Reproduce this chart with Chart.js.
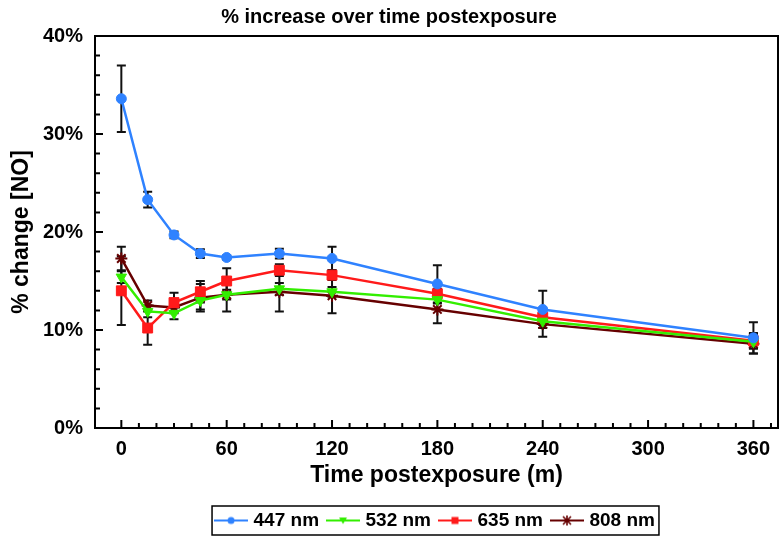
<!DOCTYPE html>
<html><head><meta charset="utf-8">
<script src="https://cdn.jsdelivr.net/npm/chart.js@4/dist/chart.umd.min.js"></script>
<style>html,body{margin:0;padding:0;background:#fff;}</style>
</head><body>
<canvas id="c" width="780" height="540"></canvas>
<script>
// ---- data ----
const times = [0, 15, 30, 45, 60, 90, 120, 180, 240, 360];
const seriesNames = ['447 nm', '532 nm', '635 nm', '808 nm'];
const nm447 = [33.6, 23.3, 19.7, 17.8, 17.4, 17.8, 17.3, 14.7, 12.1, 9.2];
const err447 = [3.4, 0.8, 0.35, 0.45, 0.2, 0.5, 1.2, 1.9, 1.9, 1.6];
const nm532 = [15.4, 11.9, 11.7, 13.0, 13.6, 14.2, 13.9, 13.1, 10.9, 8.8];
const err532 = [0.6, 0.6, 0.6, 0.9, 0.5, 0.6, 0.5, 0.4, 0.4, 0.7];
const nm635 = [14.0, 10.2, 12.8, 13.9, 15.0, 16.1, 15.6, 13.7, 11.3, 8.9];
const err635 = [3.5, 1.7, 1.0, 1.1, 1.3, 0.6, 0.5, 0.5, 0.4, 0.8];
const nm808 = [17.3, 12.5, 12.3, 13.3, 13.6, 13.9, 13.5, 12.1, 10.6, 8.6];
const err808 = [1.2, 0.5, 0.6, 1.4, 1.7, 2.0, 1.8, 1.4, 1.3, 1.0];
const xMajorTicks = [0, 60, 120, 180, 240, 300, 360];
const xMinorStep = 10;
const yMajorTicks = [0, 10, 20, 30, 40];
const yMinorStep = 2;

const FONT = "'Liberation Sans', Arial, Helvetica, sans-serif";
const colors = ['#2f82ff', '#33ee00', '#ff1a1a', '#660000'];
const styles = ['circle', 'triangle', 'rect', 'star'];
const radii = [5, 6, 7, 6];
const rotations = [0, 180, 0, 0];
const values = [nm447, nm532, nm635, nm808];
const errors = [err447, err532, err635, err808];

function legendIcon(i) {
  const cv = document.createElement('canvas');
  cv.width = 34; cv.height = 14;
  const g = cv.getContext('2d');
  g.strokeStyle = colors[i]; g.fillStyle = colors[i]; g.lineWidth = 2;
  g.beginPath(); g.moveTo(0, 7); g.lineTo(34, 7); g.stroke();
  const cx = 17, cy = 7;
  g.beginPath();
  if (styles[i] === 'circle') { g.arc(cx, cy, 3.5, 0, Math.PI * 2); g.fill(); }
  else if (styles[i] === 'triangle') { g.moveTo(cx - 4, cy - 3); g.lineTo(cx + 4, cy - 3); g.lineTo(cx, cy + 3.5); g.closePath(); g.fill(); }
  else if (styles[i] === 'rect') { g.rect(cx - 3.5, cy - 3.5, 7, 7); g.fill(); }
  else { g.lineWidth = 1.6; g.moveTo(cx - 4, cy - 4); g.lineTo(cx + 4, cy + 4); g.moveTo(cx + 4, cy - 4); g.lineTo(cx - 4, cy + 4); g.moveTo(cx, cy - 5); g.lineTo(cx, cy + 5); g.stroke(); }
  return cv;
}
const icons = seriesNames.map((_, i) => legendIcon(i));

const datasets = seriesNames.map((name, i) => ({
  label: name,
  data: times.map((t, k) => ({ x: t, y: values[i][k] })),
  errs: errors[i],
  borderColor: colors[i],
  backgroundColor: colors[i],
  borderWidth: 2.5,
  pointStyle: styles[i],
  pointRadius: radii[i],
  pointRotation: rotations[i],
  pointBorderWidth: styles[i] === 'star' ? 2 : 1,
  pointBorderColor: colors[i],
  pointBackgroundColor: colors[i],
  tension: 0,
  fill: false
}));

const errorBars = {
  id: 'errorBars',
  beforeDatasetsDraw(chart) {
    const ctx = chart.ctx, xs = chart.scales.x, ys = chart.scales.y;
    ctx.save();
    ctx.strokeStyle = '#111'; ctx.lineWidth = 2;
    chart.data.datasets.forEach(ds => {
      ds.data.forEach((p, k) => {
        const e = ds.errs[k];
        const x = xs.getPixelForValue(p.x);
        const y1 = ys.getPixelForValue(p.y + e), y2 = ys.getPixelForValue(p.y - e);
        ctx.beginPath();
        ctx.moveTo(x, y1); ctx.lineTo(x, y2);
        ctx.moveTo(x - 4.5, y1); ctx.lineTo(x + 4.5, y1);
        ctx.moveTo(x - 4.5, y2); ctx.lineTo(x + 4.5, y2);
        ctx.stroke();
      });
    });
    ctx.restore();
  }
};

const frame = {
  id: 'frame',
  afterDraw(chart) {
    const ctx = chart.ctx, a = chart.chartArea, xs = chart.scales.x, ys = chart.scales.y;
    ctx.save();
    ctx.strokeStyle = '#000'; ctx.lineWidth = 2;
    ctx.strokeRect(a.left, a.top, a.right - a.left, a.bottom - a.top);
    ctx.beginPath();
    xs.ticks.forEach(t => {
      const x = xs.getPixelForValue(t.value);
      const len = xMajorTicks.includes(t.value) ? 8 : 5;
      ctx.moveTo(x, a.bottom); ctx.lineTo(x, a.bottom - len);
    });
    ys.ticks.forEach(t => {
      const y = ys.getPixelForValue(t.value);
      const len = yMajorTicks.includes(t.value) ? 8 : 5;
      ctx.moveTo(a.left, y); ctx.lineTo(a.left + len, y);
    });
    ctx.stroke();
    // legend border
    const hb = chart.legend.legendHitBoxes;
    if (hb && hb.length) {
      const l = Math.min(...hb.map(h => h.left)) - 6;
      const r = Math.max(...hb.map(h => h.left + h.width)) + 4;
      const t = Math.min(...hb.map(h => h.top)) - 5;
      const b = Math.max(...hb.map(h => h.top + h.height)) + 5;
      ctx.lineWidth = 1.5;
      ctx.strokeRect(l, t, r - l, b - t);
    }
    ctx.restore();
  }
};

new Chart(document.getElementById('c'), {
  type: 'line',
  data: { datasets },
  plugins: [errorBars, frame],
  options: {
    responsive: false,
    animation: false,
    devicePixelRatio: 1,
    layout: { autoPadding: false, padding: { left: 0, right: 2, top: 0, bottom: 0 } },
    plugins: {
      tooltip: { enabled: false },
      title: {
        display: true, text: '% increase over time postexposure', color: '#000',
        font: { family: FONT, size: 20, weight: 'bold' }, padding: { top: 5, bottom: 7 }
      },
      legend: {
        position: 'bottom',
        fullSize: false,
        labels: {
          usePointStyle: true, pointStyleWidth: 26, boxHeight: 14, padding: 11, color: '#000',
          font: { family: FONT, size: 19, weight: 'bold' },
          generateLabels: (chart) => chart.data.datasets.map((ds, i) => ({
            text: ds.label, pointStyle: icons[i], fillStyle: colors[i], strokeStyle: colors[i],
            lineWidth: 0, datasetIndex: i, hidden: false, fontColor: '#000'
          }))
        }
      }
    },
    scales: {
      x: {
        type: 'linear', min: -15, max: 374,
        afterBuildTicks: (s) => {
          const arr = [];
          for (let v = xMajorTicks[0]; v <= xMajorTicks[xMajorTicks.length - 1] + xMinorStep; v += xMinorStep) arr.push({ value: v });
          s.ticks = arr;
        },
        afterFit: (s) => { s.height = 72; s.paddingLeft = 0; s.paddingRight = 0; },
        grid: { display: false, drawTicks: false }, border: { display: false },
        ticks: {
          autoSkip: false, maxRotation: 0, padding: 9, color: '#000',
          font: { family: FONT, size: 20, weight: 'bold' },
          callback: (v) => xMajorTicks.includes(v) ? String(v) : ''
        },
        title: {
          display: true, text: 'Time postexposure (m)', color: '#000',
          font: { family: FONT, size: 23, weight: 'bold' }, padding: { top: 0, bottom: 11 }
        }
      },
      y: {
        min: 0, max: 40,
        afterBuildTicks: (s) => {
          const arr = [];
          for (let v = yMajorTicks[0]; v <= yMajorTicks[yMajorTicks.length - 1]; v += yMinorStep) arr.push({ value: v });
          s.ticks = arr;
        },
        afterFit: (s) => { s.width = 95; },
        grid: { display: false, drawTicks: false }, border: { display: false },
        ticks: {
          autoSkip: false, padding: 12, color: '#000',
          font: { family: FONT, size: 20, weight: 'bold' },
          callback: (v) => yMajorTicks.includes(v) ? v + '%' : ''
        },
        title: {
          display: true, text: '% change [NO]', color: '#000',
          font: { family: FONT, size: 23, weight: 'bold' }, padding: { top: 8, bottom: 7 }
        }
      }
    }
  }
});
</script>
</body></html>
